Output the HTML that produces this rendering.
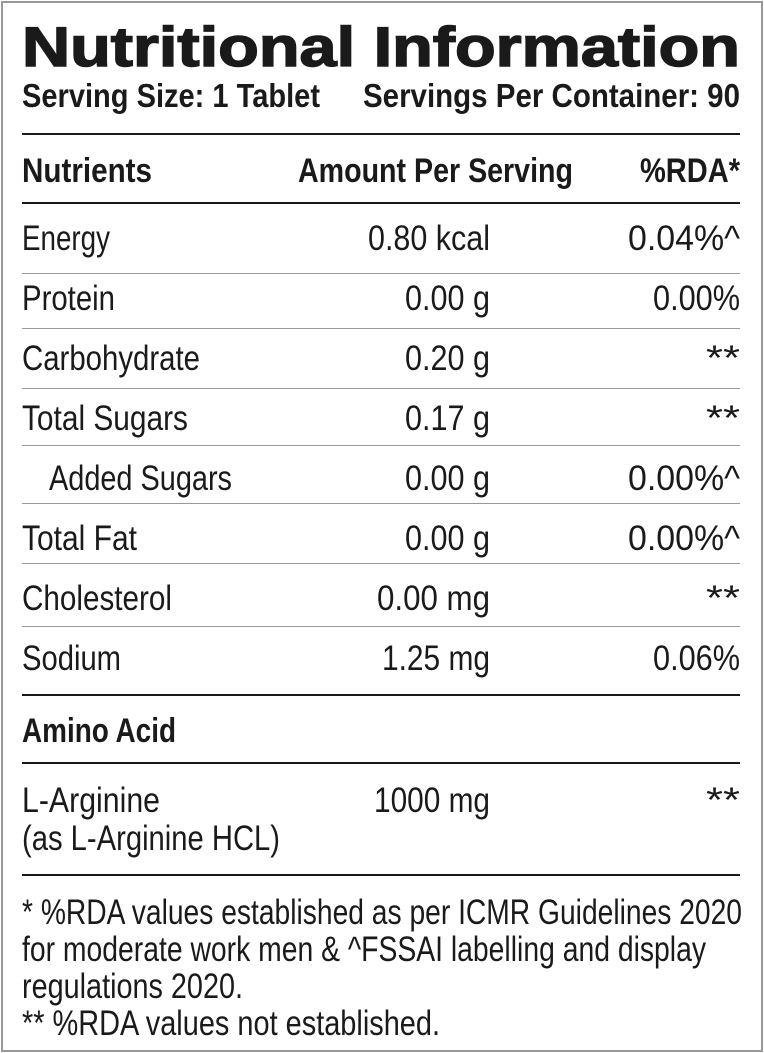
<!DOCTYPE html>
<html><head><meta charset="utf-8"><style>
html,body{margin:0;padding:0;background:#fff;}
svg{display:block;}
text{font-family:"Liberation Sans Narrow","Liberation Sans",sans-serif;fill:#1a1a1a;}
.b{font-weight:bold;}
.r{font-size:35px;}
</style></head><body>
<svg width="764" height="1053" viewBox="0 0 764 1053" xmlns="http://www.w3.org/2000/svg">
<rect x="2" y="2" width="760" height="1049" fill="#fff" stroke="#999" stroke-width="2"/>
<text x="22" y="66" class="b" style="font-family:'Liberation Sans',sans-serif;font-weight:900;font-size:56px;stroke:#1a1a1a;stroke-width:1.5" textLength="718" lengthAdjust="spacingAndGlyphs">Nutritional Information</text>
<text x="22" y="107" class="b" font-size="33" textLength="298" lengthAdjust="spacingAndGlyphs">Serving Size: 1 Tablet</text>
<text x="363" y="107" class="b" font-size="33" textLength="377" lengthAdjust="spacingAndGlyphs">Servings Per Container: 90</text>
<rect x="22" y="133" width="718" height="2" fill="#1a1a1a"/>
<text x="22" y="182" class="b" font-size="34" textLength="130" lengthAdjust="spacingAndGlyphs">Nutrients</text>
<text x="298" y="182" class="b" font-size="34" textLength="275" lengthAdjust="spacingAndGlyphs">Amount Per Serving</text>
<text x="740" y="182" class="b" font-size="34" text-anchor="end" textLength="100" lengthAdjust="spacingAndGlyphs">%RDA*</text>
<rect x="22" y="202" width="718" height="2" fill="#1a1a1a"/>
<g class="r">
<text x="22" y="250" textLength="88" lengthAdjust="spacingAndGlyphs">Energy</text>
<text x="490" y="250" text-anchor="end" textLength="122" lengthAdjust="spacingAndGlyphs">0.80 kcal</text>
<text x="740" y="250" text-anchor="end" textLength="112" lengthAdjust="spacingAndGlyphs">0.04%^</text>
<rect x="22" y="273" width="718" height="1" fill="#999"/>
<text x="22" y="310" textLength="93" lengthAdjust="spacingAndGlyphs">Protein</text>
<text x="490" y="310" text-anchor="end" textLength="85" lengthAdjust="spacingAndGlyphs">0.00 g</text>
<text x="740" y="310" text-anchor="end" textLength="87" lengthAdjust="spacingAndGlyphs">0.00%</text>
<rect x="22" y="328" width="718" height="1" fill="#999"/>
<text x="22" y="370" textLength="178" lengthAdjust="spacingAndGlyphs">Carbohydrate</text>
<text x="490" y="370" text-anchor="end" textLength="85" lengthAdjust="spacingAndGlyphs">0.20 g</text>
<text x="740" y="370" text-anchor="end" textLength="34" lengthAdjust="spacingAndGlyphs">**</text>
<rect x="22" y="388" width="718" height="1" fill="#999"/>
<text x="22" y="430" textLength="166" lengthAdjust="spacingAndGlyphs">Total Sugars</text>
<text x="490" y="430" text-anchor="end" textLength="85" lengthAdjust="spacingAndGlyphs">0.17 g</text>
<text x="740" y="430" text-anchor="end" textLength="34" lengthAdjust="spacingAndGlyphs">**</text>
<rect x="22" y="445" width="718" height="1" fill="#999"/>
<text x="49" y="490" textLength="183" lengthAdjust="spacingAndGlyphs">Added Sugars</text>
<text x="490" y="490" text-anchor="end" textLength="85" lengthAdjust="spacingAndGlyphs">0.00 g</text>
<text x="740" y="490" text-anchor="end" textLength="112" lengthAdjust="spacingAndGlyphs">0.00%^</text>
<rect x="22" y="503" width="718" height="1" fill="#999"/>
<text x="22" y="550" textLength="115" lengthAdjust="spacingAndGlyphs">Total Fat</text>
<text x="490" y="550" text-anchor="end" textLength="85" lengthAdjust="spacingAndGlyphs">0.00 g</text>
<text x="740" y="550" text-anchor="end" textLength="112" lengthAdjust="spacingAndGlyphs">0.00%^</text>
<rect x="22" y="563" width="718" height="1" fill="#999"/>
<text x="22" y="610" textLength="150" lengthAdjust="spacingAndGlyphs">Cholesterol</text>
<text x="490" y="610" text-anchor="end" textLength="113" lengthAdjust="spacingAndGlyphs">0.00 mg</text>
<text x="740" y="610" text-anchor="end" textLength="34" lengthAdjust="spacingAndGlyphs">**</text>
<rect x="22" y="626" width="718" height="1" fill="#999"/>
<text x="22" y="670" textLength="99" lengthAdjust="spacingAndGlyphs">Sodium</text>
<text x="490" y="670" text-anchor="end" textLength="108" lengthAdjust="spacingAndGlyphs">1.25 mg</text>
<text x="740" y="670" text-anchor="end" textLength="87" lengthAdjust="spacingAndGlyphs">0.06%</text>
</g>
<rect x="22" y="694" width="718" height="2" fill="#1a1a1a"/>
<text x="22" y="742" class="b" font-size="34" textLength="154" lengthAdjust="spacingAndGlyphs">Amino Acid</text>
<rect x="22" y="762" width="718" height="2" fill="#1a1a1a"/>
<g class="r">
<text x="22" y="812" textLength="138" lengthAdjust="spacingAndGlyphs">L-Arginine</text>
<text x="22" y="850" textLength="258" lengthAdjust="spacingAndGlyphs">(as L-Arginine HCL)</text>
<text x="490" y="812" text-anchor="end" textLength="116" lengthAdjust="spacingAndGlyphs">1000 mg</text>
<text x="740" y="812" text-anchor="end" textLength="34" lengthAdjust="spacingAndGlyphs">**</text>
</g>
<rect x="22" y="874" width="718" height="2" fill="#1a1a1a"/>
<g class="r">
<text x="22" y="924" textLength="720" lengthAdjust="spacingAndGlyphs">* %RDA values established as per ICMR Guidelines 2020</text>
<text x="22" y="961" textLength="684" lengthAdjust="spacingAndGlyphs">for moderate work men &amp; ^FSSAI labelling and display</text>
<text x="22" y="998" textLength="221" lengthAdjust="spacingAndGlyphs">regulations 2020.</text>
<text x="22" y="1035" textLength="418" lengthAdjust="spacingAndGlyphs">** %RDA values not established.</text>
</g>
</svg>
</body></html>
